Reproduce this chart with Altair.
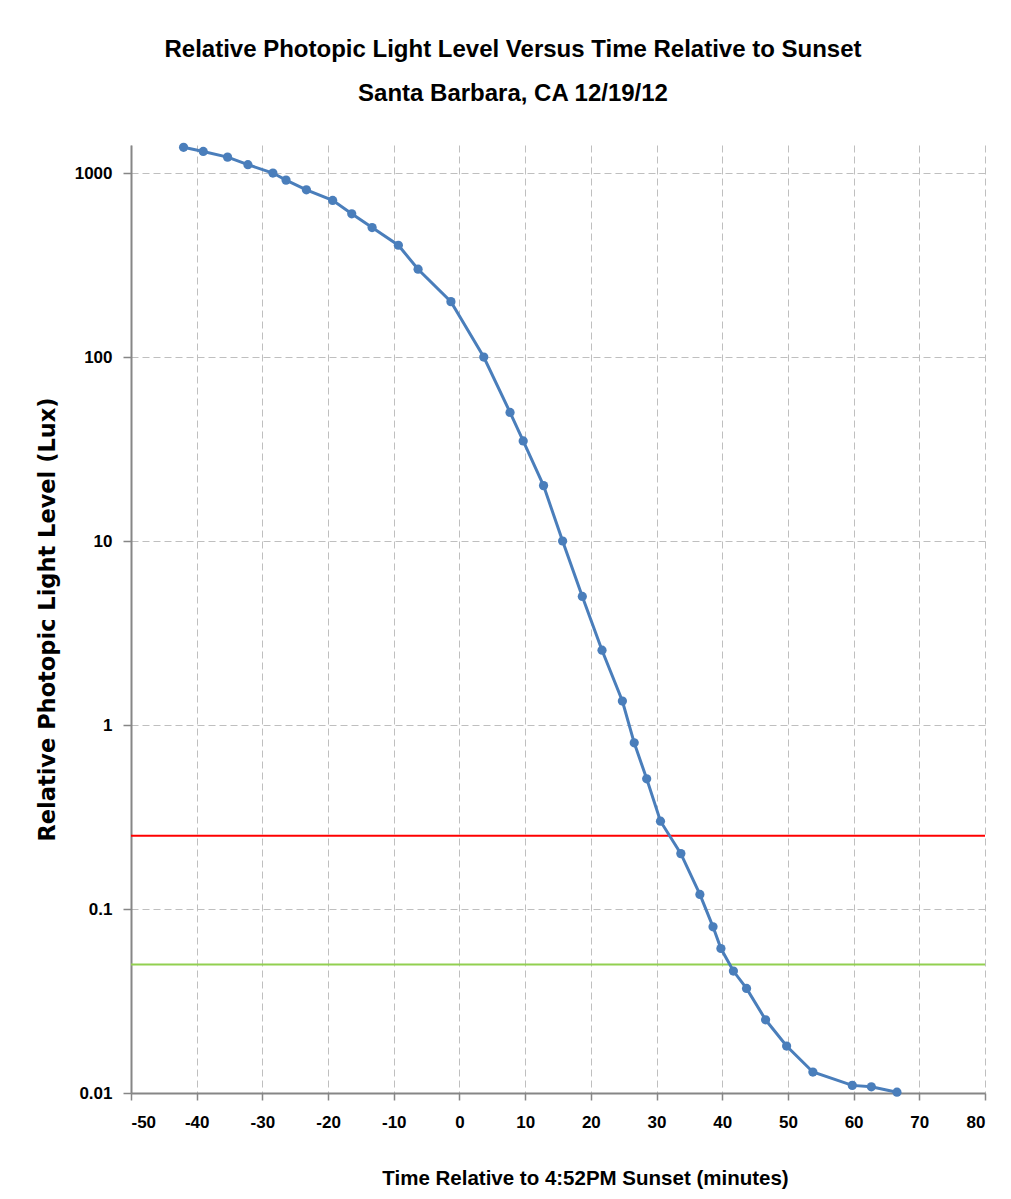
import altair as alt
import pandas as pd

# Data
minutes = [-42, -39, -35.3, -32.2, -28.4, -26.4, -23.3, -19.3, -16.4, -13.3,
           -9.3, -6.3, -1.3, 3.7, 7.7, 9.7, 12.8, 15.7, 18.7, 21.7,
           24.8, 26.6, 28.5, 30.6, 33.7, 36.6, 38.6, 39.8, 41.7, 43.7,
           46.6, 49.8, 53.8, 59.8, 62.7, 66.6]
lux = [1380, 1310, 1220, 1110, 1000, 915, 810, 710, 600, 505,
       405, 300, 200, 100, 50, 35, 20, 10, 5, 2.55,
       1.35, 0.8, 0.51, 0.3, 0.2, 0.12, 0.08, 0.061, 0.046, 0.037,
       0.025, 0.018, 0.013, 0.011, 0.0108, 0.0101]
threshold_values = [0.25, 0.05]
threshold_colors = ["#FF0000", "#92D050"]
x_ticks = list(range(-50, 81, 10))
y_ticks = [0.01, 0.1, 1, 10, 100, 1000]

df = pd.DataFrame({"t": minutes, "lux": lux, "i": range(len(minutes))})
thr = pd.DataFrame({"y": threshold_values, "c": threshold_colors})

SANS = "Liberation Sans, Arial, sans-serif"

x_enc = alt.X(
    "t:Q",
    scale=alt.Scale(domain=[-50, 80], nice=False, zero=False),
    axis=alt.Axis(
        values=x_ticks,
        labelExpr="datum.value < 0 ? '-' + abs(datum.value) : '' + datum.value",
        title="Time Relative to 4:52PM Sunset (minutes)",
        titleFont=SANS, titleFontSize=20.5, titleFontWeight="bold", titleColor="#000000",
        titleX=454, titleY=91, titleAlign="center", titleBaseline="alphabetic",
        labelFont=SANS, labelFontSize=17, labelFontWeight="bold", labelColor="#000000",
        labelPadding=14, tickSize=7,
    ),
)
y_enc = alt.Y(
    "lux:Q",
    scale=alt.Scale(type="log", domain=[0.01, 1420], nice=False),
    axis=alt.Axis(
        values=y_ticks, format="~g",
        title="Relative Photopic Light Level (Lux)",
        titleFont="DejaVu Sans", titleFontSize=22.5, titleFontWeight="bold", titleColor="#000000",
        titleX=-84, titleY=474, titleAlign="center", titleBaseline="middle", titleAngle=270,
        labelFont=SANS, labelFontSize=17, labelFontWeight="bold", labelColor="#000000",
        labelPadding=11, tickSize=8,
    ),
)

line = alt.Chart(df).mark_line(color="#4A7EBB", strokeWidth=3).encode(
    x=x_enc, y=y_enc, order="i:Q"
)
pts = alt.Chart(df).mark_circle(color="#4A7EBB", size=85, opacity=1).encode(
    x="t:Q", y="lux:Q"
)
rules = alt.Chart(thr).mark_rule(strokeWidth=2).encode(
    y="y:Q",
    color=alt.Color("c:N", scale=None),
)

chart = alt.layer(rules, line, pts).properties(
    width=854,
    height=948,
    autosize=alt.AutoSizeParams(type="none"),
    padding={"left": 123, "top": 137, "right": 14, "bottom": 96},
    title=alt.Title(
        ["Relative Photopic Light Level Versus Time Relative to Sunset",
         "Santa Barbara, CA 12/19/12"],
        font=SANS, fontSize=24, fontWeight="bold", color="#000000",
        lineHeight=44, anchor="middle", dx=-45, offset=35,
    ),
).configure_view(stroke=None).configure_axis(
    domainColor="#868686", domainWidth=2,
    tickColor="#868686", tickWidth=1.5,
    grid=True, gridColor="#BFBFBF", gridDash=[7, 4], gridWidth=1,
)

chart.save("out.html", embed_options={"renderer": "svg", "actions": False})
